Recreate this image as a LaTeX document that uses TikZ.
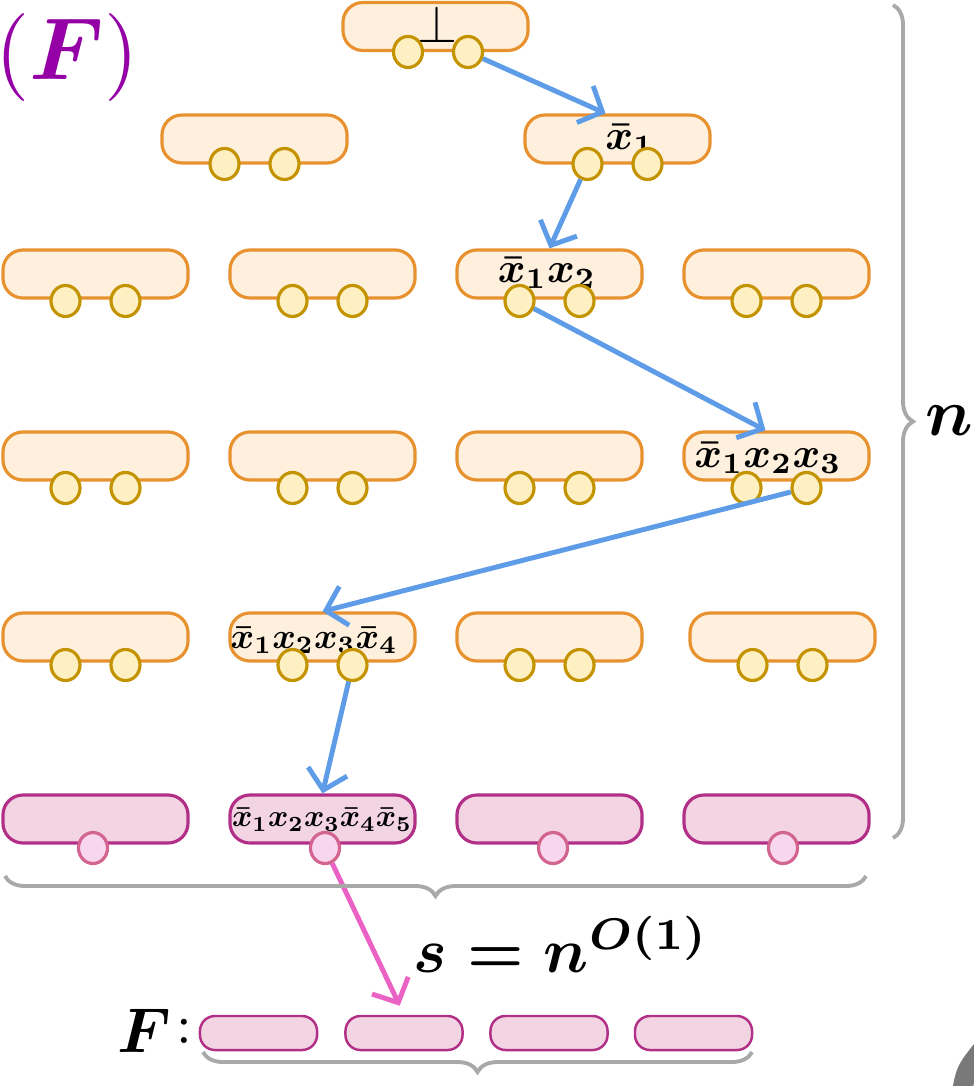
\documentclass[tikz,border=0pt]{standalone}
\usepackage{amsmath}
\usetikzlibrary{arrows.meta,shapes.geometric,decorations.pathreplacing}

\definecolor{boxfill}{HTML}{FEF0DD}
\definecolor{boxline}{HTML}{E8912F}
\definecolor{dotfill}{HTML}{FFF0C4}
\definecolor{dotline}{HTML}{C49300}
\definecolor{pinkfill}{HTML}{F2D4E3}
\definecolor{pinkline}{HTML}{B22F88}
\definecolor{pdotfill}{HTML}{F8D6EE}
\definecolor{pdotline}{HTML}{D3638F}
\definecolor{pathblue}{HTML}{5E9CE8}
\definecolor{pathpink}{HTML}{EA62C4}
\definecolor{bracegray}{HTML}{A9A9A9}
\definecolor{labpurple}{HTML}{9400A6}

\tikzset{
  gate/.style={draw=boxline, fill=boxfill, line width=0.9pt, rounded corners=2mm,
    minimum width=1.85cm, minimum height=0.48cm, inner sep=0pt},
  outgate/.style={gate, draw=pinkline, fill=pinkfill},
  outcell/.style={outgate, line width=0.7pt, rounded corners=1.5mm,
    minimum width=1.17cm, minimum height=0.34cm},
  wire/.style={ellipse, draw=dotline, fill=dotfill, line width=0.9pt,
    minimum width=0.29cm, minimum height=0.31cm, inner sep=0pt},
  outwire/.style={wire, draw=pdotline, fill=pdotfill},
  lab/.style={inner sep=0pt, font=\boldmath},
  flow/.style={draw=pathblue, line width=1.4pt, -{Straight Barb[length=1.9mm, width=4mm]}},
  bracket/.style={draw=bracegray, line width=1.1pt, decorate,
    decoration={brace, amplitude=2mm}}
}

\begin{document}
\begin{tikzpicture}[x=0.01cm, y=-0.01cm]
\useasboundingbox (0,0) rectangle (974,1086);

% top gate
\node[gate] (g01) at (435.5,26.5) {};
\node[inner sep=0pt, scale=1.5] (l0) at (437,24) {$\perp$};
\node[wire] (w01a) at (408,52) {};
\node[wire] (w01b) at (468,52) {};

% second row
\foreach \c/\x in {1/254.5, 2/617.5}{
  \node[gate] (g1\c) at (\x,139) {};
}
\node[lab, scale=1.2] (l1) at (630,140) {$\bar{x}_1$};
\foreach \c/\x in {1/254.5, 2/617.5}{
  \node[wire] (w1\c a) at (\x-30,164) {};
  \node[wire] (w1\c b) at (\x+30,164) {};
}

% rows of four gates: row / y / wire drop
\foreach \r/\y/\dy in {2/274/27, 3/456/32, 4/637/28}{
  \foreach \c/\x in {1/95.5, 2/322.5, 3/549.5, 4/776.5}{
    \pgfmathsetmacro{\xx}{\x+6*(\r==4)*(\c==4)}
    \node[gate] (g\r\c) at (\xx,\y) {};
  }
}
\node[lab, scale=1.2] (l2) at (547,273) {$\bar{x}_1x_2$};
\node[lab, scale=1.2] (l3) at (768,458) {$\bar{x}_1x_2x_3$};
\node[lab, scale=1.02] (l4) at (314,640) {$\bar{x}_1x_2x_3\bar{x}_4$};
\foreach \r/\y/\dy in {2/274/27, 3/456/32, 4/637/28}{
  \foreach \c/\x in {1/95.5, 2/322.5, 3/549.5, 4/776.5}{
    \pgfmathsetmacro{\xx}{\x+6*(\r==4)*(\c==4)}
    \node[wire] (w\r\c a) at (\xx-30,\y+\dy) {};
    \node[wire] (w\r\c b) at (\xx+30,\y+\dy) {};
  }
}

% output gates
\foreach \c/\x in {1/95.5, 2/322.5, 3/549.5, 4/776.5}{
  \node[outgate] (g5\c) at (\x,819) {};
}
\node[lab, scale=0.88] (l5) at (322,820) {$\bar{x}_1x_2x_3\bar{x}_4\bar{x}_5$};
\foreach \c/\x in {1/93, 2/325, 3/553, 4/783}{
  \node[outwire] (w5\c) at (\x,848) {};
}

% formula row
\foreach \c/\x in {1/258.5, 2/404, 3/549, 4/693.5}{
  \node[outcell] (f\c) at (\x,1033) {};
}
\node[lab, scale=1.8, anchor=east] (flab) at (172,1031) {$\boldsymbol{F}$};
\node[inner sep=0pt, scale=1.6, anchor=west] (fcol) at ([xshift=0.3mm]flab.east) {:};

% the path
\draw[flow] (w01b) -- ([xshift=-1.2mm]g12.north);
\draw[flow] (w12a) -- (g23.north);
\draw[flow] (w23a) -- ([xshift=-1.1mm]g34.north);
\draw[flow] (w34b) -- (g42.north);
\draw[flow] (w42b) -- (g52.north);
\draw[flow, draw=pathpink, shorten >=1mm] (w52) -- (f2.north);

% braces
\draw[bracket] (893,5) -- (893,838);
\node[lab, scale=1.9] (nlab) at (949,421) {$n$};
\draw[bracket] (866,876) -- (5,876);
\node[lab, scale=1.8] (slab) at (561,944) {$s=n^{O(1)}$};
\draw[bracket] (752,1052) -- (203,1052);

% title
\node[text=labpurple, inner sep=0pt, scale=2.5] (title) at (67,58) {$(\boldsymbol{F})$};

% corner of the next panel
\draw[gray!95!black, line width=2mm] (962,1092) .. controls (966,1070) .. (986,1045);

\end{tikzpicture}
\end{document}
